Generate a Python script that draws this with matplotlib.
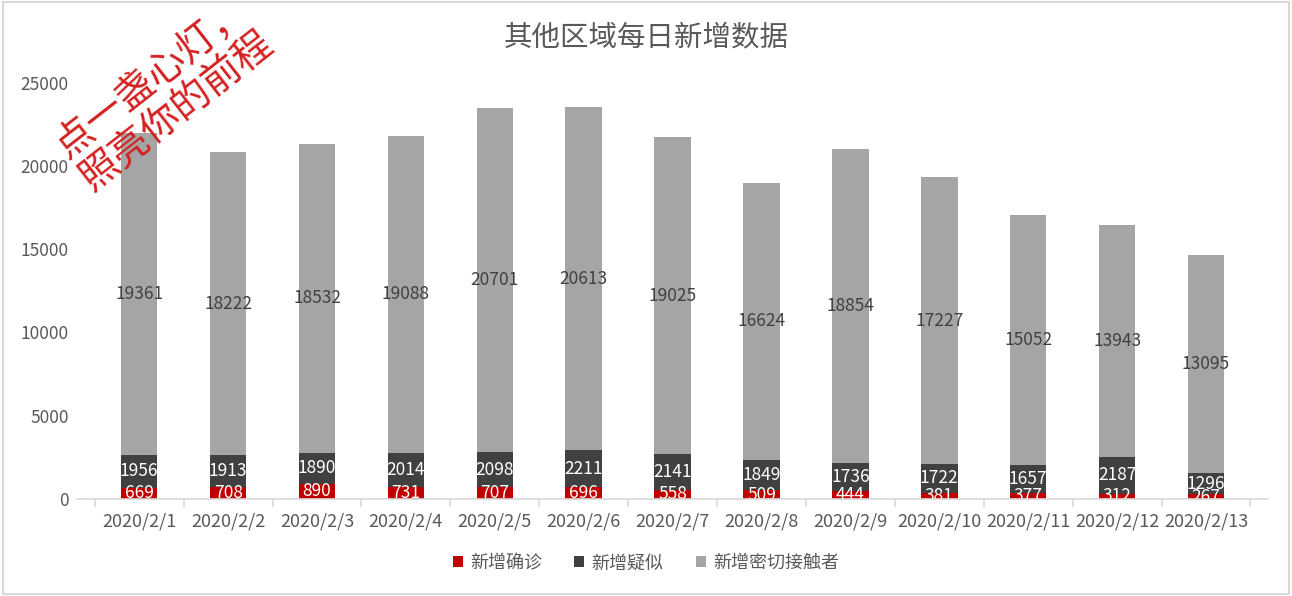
import numpy as np
import matplotlib.pyplot as plt
from matplotlib.patches import Rectangle

plt.rcParams['font.family'] = ['Noto Sans CJK SC', 'DejaVu Sans']

dates = ['2020/2/1', '2020/2/2', '2020/2/3', '2020/2/4', '2020/2/5', '2020/2/6', '2020/2/7',
         '2020/2/8', '2020/2/9', '2020/2/10', '2020/2/11', '2020/2/12', '2020/2/13']
confirmed = [669, 708, 890, 731, 707, 696, 558, 509, 444, 381, 377, 312, 267]
suspected = [1956, 1913, 1890, 2014, 2098, 2211, 2141, 1849, 1736, 1722, 1657, 2187, 1296]
contacts = [19361, 18222, 18532, 19088, 20701, 20613, 19025, 16624, 18854, 17227, 15052, 13943, 13095]
names = ['新增确诊', '新增疑似', '新增密切接触者']

fig = plt.figure(figsize=(12.92, 5.96), dpi=100)
ax = fig.add_axes([0.0596, 0.163, 0.922, 0.698])

x = np.arange(len(dates))
w = 0.41
c1 = np.array(confirmed)
c2 = np.array(suspected)
c3 = np.array(contacts)

b1 = ax.bar(x, c1, w, color='#C00000', label=names[0], zorder=2)
b2 = ax.bar(x, c2, w, bottom=c1, color='#404040', label=names[1], zorder=2)
b3 = ax.bar(x, c3, w, bottom=c1 + c2, color='#A5A5A5', label=names[2], zorder=2)

ax.bar_label(b2, labels=[str(v) for v in suspected], label_type='center', color='white', fontsize=12.5)
# red labels are cut at the axis line, as in the original
red = ax.bar_label(b1, labels=[str(v) for v in confirmed], label_type='center', color='white', fontsize=12.5)
for t in red:
    t.set_clip_on(True)
ax.bar_label(b3, labels=[str(v) for v in contacts], label_type='center', color='#404040', fontsize=12.5)

ax.set_xlim(-0.7, len(dates) - 0.3)
ax.set_ylim(0, 25000)
ax.set_yticks(np.arange(0, 25001, 5000))
ax.set_xticks(x)
ax.set_xticklabels(dates)
ax.tick_params(axis='y', length=0, labelsize=12.5, labelcolor='#595959', pad=6)
ax.tick_params(axis='x', length=0, labelsize=13, labelcolor='#595959', pad=10)
ax.set_xticks(np.arange(-0.5, len(dates), 1), minor=True)
ax.tick_params(axis='x', which='minor', length=6, color='#D9D9D9', width=1.2)
for s in ['top', 'right', 'left']:
    ax.spines[s].set_visible(False)
ax.spines['bottom'].set_color('#D9D9D9')
ax.spines['bottom'].set_linewidth(1.2)
ax.spines['bottom'].set_zorder(4)

fig.suptitle('其他区域每日新增数据', fontsize=20.5, color='#595959', x=0.5, y=0.962, va='top')

leg = fig.legend(handles=[b1, b2, b3], labels=names, loc='center', bbox_to_anchor=(0.5, 0.055),
                 ncol=3, frameon=False, fontsize=13, handlelength=0.55, handleheight=0.55,
                 handletextpad=0.4, columnspacing=1.8)
for t in leg.get_texts():
    t.set_color('#595959')

fig.text(0.127, 0.84, '点一盏心灯，\n照亮你的前程', rotation=38, rotation_mode='anchor',
         ha='center', va='center', fontsize=28, color='#D42020', linespacing=1.0)

fig.patches.append(Rectangle((0.002, 0.003), 0.996, 0.994, transform=fig.transFigure,
                             fill=False, edgecolor='#D9D9D9', linewidth=1.5))

fig.savefig('out.png', dpi=100)
